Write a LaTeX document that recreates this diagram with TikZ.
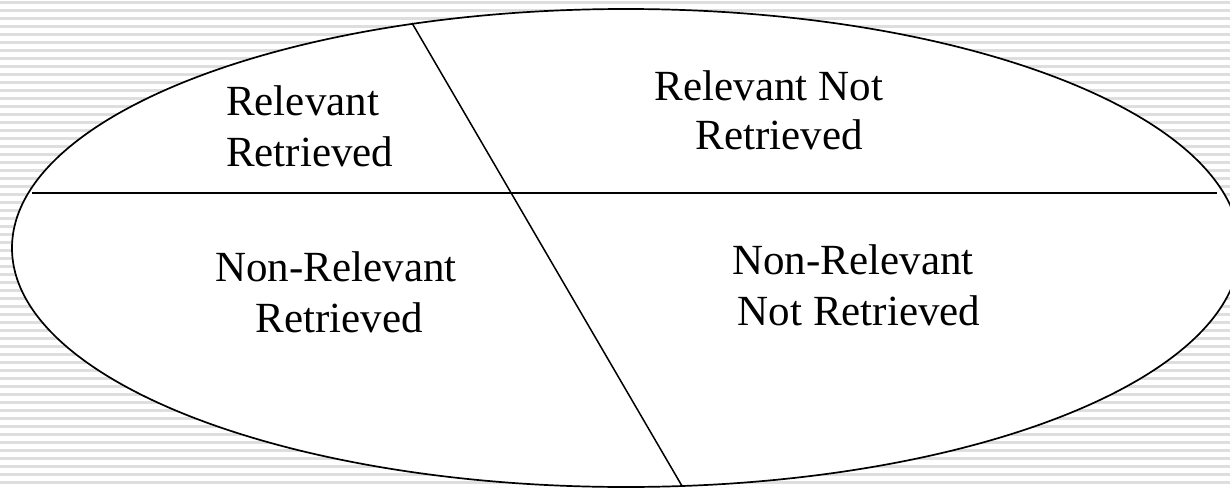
\documentclass[tikz,border=0pt]{standalone}
\usepackage{fontspec}
\setmainfont{Liberation Serif}

\tikzset{
  stripe/.style={draw=black!13, line width=2.2pt},
  rim/.style={draw=black, line width=1.7pt},
  cut/.style={draw=black, line width=1.5pt},
  word/.style={inner sep=0pt, anchor=base, font=\fontsize{43}{51}\selectfont}
}

\begin{document}
\begin{tikzpicture}[x=1pt, y=-1pt]
\useasboundingbox (0,0) rectangle (1230,487);
\fill[white] (0,0) rectangle (1230,487);
\foreach \k in {0,...,60}
  \draw[stripe] (0,{2.5+8*\k}) -- (1230,{2.5+8*\k});
\filldraw[rim, fill=white] (626,248) ellipse [x radius=614, y radius=239];
\coordinate (top) at (412,23);
\coordinate (bottom) at (682,486);
\coordinate (left) at (32,193);
\coordinate (right) at (1217,193);
\draw[cut] (top) -- (bottom);
\draw[cut] (left) -- (right);
\node[word, anchor=base west] (rr1) at (226,115) {Relevant};
\node[word, anchor=base west] (rr2) at (226,166) {Retrieved};
\node[word] (rn1) at (769,100) {Relevant Not};
\node[word] (rn2) at (779,149) {Retrieved};
\node[word] (nr1) at (336,281) {Non-Relevant};
\node[word] (nr2) at (339,332) {Retrieved};
\node[word] (nn1) at (853,274) {Non-Relevant};
\node[word] (nn2) at (859,325) {Not Retrieved};
\end{tikzpicture}
\end{document}
